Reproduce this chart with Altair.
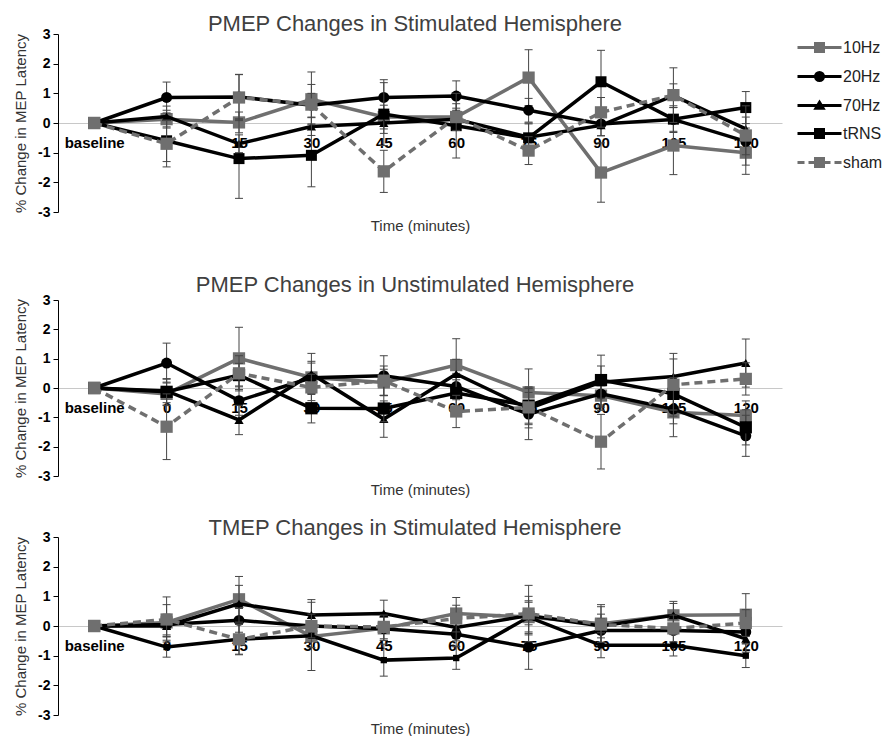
import altair as alt
import pandas as pd

FONT = "Liberation Sans"
TIMES = ["baseline", "0", "15", "30", "45", "60", "75", "90", "105", "120"]
SERIES = ["10Hz", "20Hz", "70Hz", "tRNS", "sham"]
TITLES = [
    "PMEP Changes in Stimulated Hemisphere",
    "PMEP Changes in Unstimulated Hemisphere",
    "TMEP Changes in Stimulated Hemisphere",
]

# Panel 1: PMEP, stimulated hemisphere (mean % change, error)
P1_10HZ = [0, 0.13, 0.02, 0.80, 0.20, 0.20, 1.53, -1.67, -0.76, -1.00]
P1_20HZ = [0, 0.86, 0.88, 0.60, 0.86, 0.91, 0.43, -0.03, 0.12, -0.62]
P1_70HZ = [0, 0.22, -0.70, -0.12, 0.00, 0.13, -0.48, -0.08, 0.92, -0.20]
P1_TRNS = [0, -0.60, -1.20, -1.09, 0.30, -0.09, -0.50, 1.39, 0.13, 0.52]
P1_SHAM = [0, -0.70, 0.86, 0.62, -1.63, 0.20, -0.93, 0.36, 0.94, -0.42]
P1_10HZ_ERR = [0, 0.30, 0.35, 0.92, 0.40, 0.30, 0.94, 1.00, 0.98, 0.73]
P1_20HZ_ERR = [0, 0.52, 0.75, 0.40, 0.60, 0.51, 0.40, 0.40, 0.40, 0.45]
P1_70HZ_ERR = [0, 0.35, 0.30, 0.30, 0.35, 0.30, 0.45, 0.35, 0.40, 0.40]
P1_TRNS_ERR = [0, 0.70, 1.34, 1.06, 1.06, 1.09, 0.50, 1.06, 0.45, 0.54]
P1_SHAM_ERR = [0, 0.78, 0.78, 0.68, 0.71, 0.45, 0.47, 0.50, 0.92, 1.00]

# Panel 2: PMEP, unstimulated hemisphere
P2_10HZ = [0, -0.20, 1.01, 0.36, 0.19, 0.78, -0.15, -0.26, -0.83, -0.94]
P2_20HZ = [0, 0.85, -0.43, 0.35, 0.42, 0.05, -0.89, -0.20, -0.72, -1.63]
P2_70HZ = [0, -0.10, -1.09, 0.48, -1.06, 0.48, -0.70, 0.20, 0.39, 0.85]
P2_TRNS = [0, -0.13, 0.44, -0.69, -0.70, -0.17, -0.60, 0.27, -0.20, -1.34]
P2_SHAM = [0, -1.32, 0.50, 0.02, 0.25, -0.80, -0.66, -1.83, 0.11, 0.31]
P2_10HZ_ERR = [0, 0.40, 1.06, 0.55, 0.45, 0.90, 0.80, 0.50, 0.83, 0.50]
P2_20HZ_ERR = [0, 0.68, 0.50, 0.50, 0.68, 0.45, 0.87, 0.45, 0.50, 0.70]
P2_70HZ_ERR = [0, 0.40, 0.50, 0.70, 0.62, 0.50, 0.55, 0.55, 0.60, 0.82]
P2_TRNS_ERR = [0, 0.45, 0.40, 0.50, 0.45, 0.45, 0.60, 0.85, 0.55, 0.60]
P2_SHAM_ERR = [0, 1.12, 0.60, 0.45, 0.50, 0.55, 0.70, 0.93, 1.07, 0.55]

# Panel 3: TMEP, stimulated hemisphere
P3_10HZ = [0, 0.12, 0.90, -0.35, -0.08, 0.42, 0.30, 0.08, 0.36, 0.38]
P3_20HZ = [0, 0.05, 0.19, 0.00, -0.09, -0.28, -0.71, -0.15, -0.15, -0.20]
P3_70HZ = [0, 0.00, 0.75, 0.37, 0.42, -0.05, 0.35, 0.00, 0.36, -0.43]
P3_TRNS = [0, -0.71, -0.45, -0.33, -1.15, -1.08, 0.30, -0.65, -0.65, -1.00]
P3_SHAM = [0, 0.22, -0.45, 0.00, -0.03, 0.25, 0.42, 0.05, -0.08, 0.10]
P3_10HZ_ERR = [0, 0.60, 0.77, 1.15, 0.40, 0.54, 0.55, 0.64, 0.40, 0.71]
P3_20HZ_ERR = [0, 0.35, 0.40, 0.40, 0.40, 0.40, 0.75, 0.40, 0.40, 0.40]
P3_70HZ_ERR = [0, 0.35, 0.62, 0.52, 0.45, 0.45, 0.65, 0.40, 0.47, 0.45]
P3_TRNS_ERR = [0, 0.34, 0.52, 0.40, 0.54, 0.38, 0.50, 0.42, 0.36, 0.40]
P3_SHAM_ERR = [0, 0.76, 0.50, 0.40, 0.40, 0.45, 0.95, 0.60, 0.45, 0.45]

GRAY = "#6f6f6f"
BLACK = "#000000"
ERRC = "#454545"
STYLE = {
    "10Hz": dict(color=GRAY, shape="square", size=150, dash=None),
    "20Hz": dict(color=BLACK, shape="circle", size=120, dash=None),
    "70Hz": dict(color=BLACK, shape="triangle-up", size=85, dash=None),
    "tRNS": dict(color=BLACK, shape="square", size=150, dash=None),
    "sham": dict(color=GRAY, shape="square", size=150, dash=[8, 5]),
}

SQ = "M-0.4,-0.4H0.4V0.4H-0.4Z M-0.4,-0.1H0.4 M-0.4,0.1H0.4"
CI = "M-0.4,0A0.4,0.4 0 1,0 0.4,0A0.4,0.4 0 1,0 -0.4,0Z M-0.3,-0.1H0.3 M-0.3,0.1H0.3"
TR = "M0,-0.32L0.36,0.28L-0.36,0.28Z"
LINE = "M-2.2,0H2.2 "
DASHED = "M-2.2,0H-1.5M-1.1,0H-0.55M0.55,0H1.1M1.5,0H2.2 "
LEG_PATHS = [LINE + SQ, LINE + CI, LINE + TR, LINE + SQ, DASHED + SQ]
LEG_COLORS = [GRAY, BLACK, BLACK, BLACK, GRAY]


def make_df(means, errs):
    rows = []
    for s, m, e in zip(SERIES, means, errs):
        for i, (t, v, er) in enumerate(zip(TIMES, m, e)):
            rows.append({"series": s, "time": t, "idx": i, "value": v, "err": er})
    return pd.DataFrame(rows)


W = 724


def panel(df, title, H, trns_size, title_offset, legend=False):
    xenc = alt.X(
        "time:N",
        sort=TIMES,
        scale=alt.Scale(type="point", domain=TIMES, padding=0.5),
        title="Time (minutes)",
        axis=alt.Axis(
            orient="bottom", offset=-H / 2, domainColor="#c8c8c8", domainWidth=1,
            ticks=False, grid=False, labelFont=FONT, labelFontWeight="bold",
            labelFontSize=15, labelColor="#000", labelPadding=12, labelAngle=0,
            labelOverlap=False, titleFont=FONT, titleFontSize=15,
            titleFontWeight="normal", titleColor="#333", titleY=H / 2 + 13,
            titleBaseline="middle",
        ),
    )

    def yenc(field):
        return alt.Y(
            field + ":Q",
            scale=alt.Scale(domain=[-3, 3], nice=False, zero=False),
            title="% Change in MEP Latency",
            axis=alt.Axis(
                values=[-3, -2, -1, 0, 1, 2, 3], labelExpr="'' + datum.value",
                grid=False, domainColor="#000", tickColor="#000", tickSize=5,
                labelFont=FONT, labelFontWeight="bold", labelFontSize=14,
                labelColor="#000", labelPadding=3, titleFont=FONT,
                titleFontSize=15, titleFontWeight="normal", titleColor="#333",
                titlePadding=9,
            ),
        )

    base = alt.Chart(df).encode(x=xenc)
    layers = []
    for s in SERIES:
        st = STYLE[s]
        sub = base.transform_filter(alt.datum.series == s)
        eb = sub.transform_filter(alt.datum.err > 0).transform_calculate(
            lo="datum.value - datum.err", hi="datum.value + datum.err"
        )
        layers.append(eb.mark_rule(color=ERRC, strokeWidth=1).encode(y=yenc("lo"), y2="hi:Q"))
        layers.append(eb.mark_tick(color=ERRC, thickness=1, size=8, opacity=1).encode(y=yenc("lo")))
        layers.append(eb.mark_tick(color=ERRC, thickness=1, size=8, opacity=1).encode(y=yenc("hi")))
        lk = dict(color=st["color"], strokeWidth=3.5)
        if st["dash"]:
            lk["strokeDash"] = st["dash"]
        layers.append(sub.mark_line(**lk).encode(y=yenc("value"), order=alt.Order("idx:Q")))
        size = trns_size if s == "tRNS" else st["size"]
        layers.append(
            sub.mark_point(filled=True, shape=st["shape"], size=size, color=st["color"],
                           opacity=1, strokeWidth=0).encode(y=yenc("value"))
        )
    if legend:
        leg = alt.Legend(
            orient="none", legendX=750, legendY=2, symbolSize=400,
            symbolStrokeWidth=3, symbolFillColor="transparent",
            symbolStrokeColor="#000", symbolOpacity=1, labelFont=FONT,
            labelFontSize=16, labelColor="#222", labelOffset=12, rowPadding=7,
        )
        layers.append(
            alt.Chart(df).transform_filter("false").mark_point(
                filled=False, opacity=1, strokeWidth=3
            ).encode(
                color=alt.Color("series:N", scale=alt.Scale(domain=SERIES, range=LEG_COLORS),
                                legend=leg, title=None),
                shape=alt.Shape("series:N", scale=alt.Scale(domain=SERIES, range=LEG_PATHS),
                                legend=leg, title=None),
            )
        )
    return alt.layer(*layers).properties(
        width=W, height=H,
        title=alt.TitleParams(text=title, fontSize=22, font=FONT, fontWeight="normal",
                              color="#404040", anchor="middle", offset=title_offset, dx=-5),
    )


p1 = panel(make_df([P1_10HZ, P1_20HZ, P1_70HZ, P1_TRNS, P1_SHAM],
                   [P1_10HZ_ERR, P1_20HZ_ERR, P1_70HZ_ERR, P1_TRNS_ERR, P1_SHAM_ERR]),
           TITLES[0], 178, 121, -9, legend=True)
p2 = panel(make_df([P2_10HZ, P2_20HZ, P2_70HZ, P2_TRNS, P2_SHAM],
                   [P2_10HZ_ERR, P2_20HZ_ERR, P2_70HZ_ERR, P2_TRNS_ERR, P2_SHAM_ERR]),
           TITLES[1], 176, 150, -4)
p3 = panel(make_df([P3_10HZ, P3_20HZ, P3_70HZ, P3_TRNS, P3_SHAM],
                   [P3_10HZ_ERR, P3_20HZ_ERR, P3_70HZ_ERR, P3_TRNS_ERR, P3_SHAM_ERR]),
           TITLES[2], 178, 40, -10)

top = alt.vconcat(p1, p2, spacing=41)
chart = alt.vconcat(top, p3, spacing=20).properties(
    padding={"left": 5, "top": 5, "right": 0, "bottom": 0}
).configure_view(strokeWidth=0)

chart.save("out.html", embed_options={"renderer": "svg", "actions": False})
